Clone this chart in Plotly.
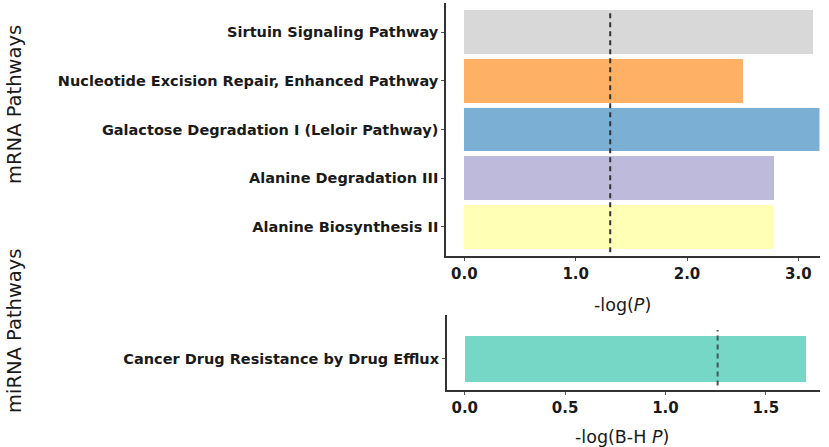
import plotly.graph_objects as go

W, H = 829, 447

# ---- data ----
mrna_pathways = [
    "Sirtuin Signaling Pathway",
    "Nucleotide Excision Repair, Enhanced Pathway",
    "Galactose Degradation I (Leloir Pathway)",
    "Alanine Degradation III",
    "Alanine Biosynthesis II",
]
mrna_values = [3.13, 2.50, 3.25, 2.78, 2.78]
mrna_colors = ["#d8d8d8", "#feb064", "#7bafd4", "#bdbadb", "#ffffb5"]
mrna_threshold = 1.31

mirna_pathways = ["Cancer Drug Resistance by Drug Efflux"]
mirna_values = [1.70]
mirna_colors = ["#76d7c7"]
mirna_threshold = 1.26

mrna_ticks = [0.0, 1.0, 2.0, 3.0]
mirna_ticks = [0.0, 0.5, 1.0, 1.5]


def px_x(p):
    return p / W


def px_y(p):
    return 1 - p / H


fig = go.Figure()

fig.add_trace(go.Bar(
    x=mrna_values, y=mrna_pathways, orientation="h",
    marker=dict(color=mrna_colors, line=dict(width=0)),
    width=0.9, xaxis="x", yaxis="y", showlegend=False,
))
fig.add_trace(go.Bar(
    x=mirna_values, y=mirna_pathways, orientation="h",
    marker=dict(color=mirna_colors, line=dict(width=0)),
    width=0.9, xaxis="x2", yaxis="y2", showlegend=False,
))

cat_font = dict(family="DejaVu Sans", size=14.5, color="#1a1a1a", weight="bold")
num_font = dict(family="DejaVu Sans", size=15, color="#1a1a1a", weight="bold")
axis_line = dict(showline=True, linecolor="#333333", linewidth=1.6,
                 ticks="outside", ticklen=3, tickcolor="#555555",
                 showgrid=False, zeroline=False, mirror=False)

fig.update_layout(
    width=W, height=H,
    margin=dict(l=0, r=0, t=0, b=0),
    paper_bgcolor="white", plot_bgcolor="white",
    bargap=0,
    xaxis=dict(domain=[px_x(446), px_x(819.5)], anchor="y",
               range=[-0.165, 3.19], tickvals=mrna_ticks,
               ticktext=[f"{v:.1f}" for v in mrna_ticks],
               tickfont=num_font, **axis_line),
    yaxis=dict(domain=[px_y(256), px_y(3)], anchor="x",
               categoryorder="array", categoryarray=mrna_pathways[::-1],
               range=[-0.6, 4.6], tickfont=cat_font, **axis_line),
    xaxis2=dict(domain=[px_x(446.7), px_x(820)], anchor="y2",
                range=[-0.09, 1.77], tickvals=mirna_ticks,
                ticktext=[f"{v:.1f}" for v in mirna_ticks],
                tickfont=num_font, **axis_line),
    yaxis2=dict(domain=[px_y(390), px_y(315)], anchor="x2",
                range=[-0.614, 0.862], tickfont=cat_font, **axis_line),
)

# threshold lines
fig.add_shape(type="line", xref="x", yref="y domain",
              x0=mrna_threshold, x1=mrna_threshold, y0=0.015, y1=0.975,
              line=dict(color="#333333", width=2, dash="5px,4px"))
fig.add_shape(type="line", xref="x2", yref="y2 domain",
              x0=mirna_threshold, x1=mirna_threshold, y0=0.06, y1=0.8,
              line=dict(color="#445555", width=2, dash="5px,4px"))

title_font = dict(family="DejaVu Sans", size=17.5, color="#1a1a1a")
fig.add_annotation(text="-log(<i>P</i>)", xref="paper", yref="paper",
                   x=px_x(622), y=px_y(305), showarrow=False,
                   xanchor="center", yanchor="middle", font=title_font)
fig.add_annotation(text="-log(B-H <i>P</i>)", xref="paper", yref="paper",
                   x=px_x(622), y=px_y(437), showarrow=False,
                   xanchor="center", yanchor="middle", font=title_font)

side_font = dict(family="DejaVu Sans", size=19.5, color="#1a1a1a")
fig.add_annotation(text="mRNA Pathways", xref="paper", yref="paper",
                   x=px_x(14), y=px_y(105), showarrow=False, textangle=-90,
                   xanchor="center", yanchor="middle", font=side_font)
fig.add_annotation(text="miRNA Pathways", xref="paper", yref="paper",
                   x=px_x(14), y=px_y(331), showarrow=False, textangle=-90,
                   xanchor="center", yanchor="middle", font=side_font)

fig.write_html("out.html",
               config={"displayModeBar": False},
               post_script="document.body.style.margin='0';document.body.style.overflow='hidden';")
